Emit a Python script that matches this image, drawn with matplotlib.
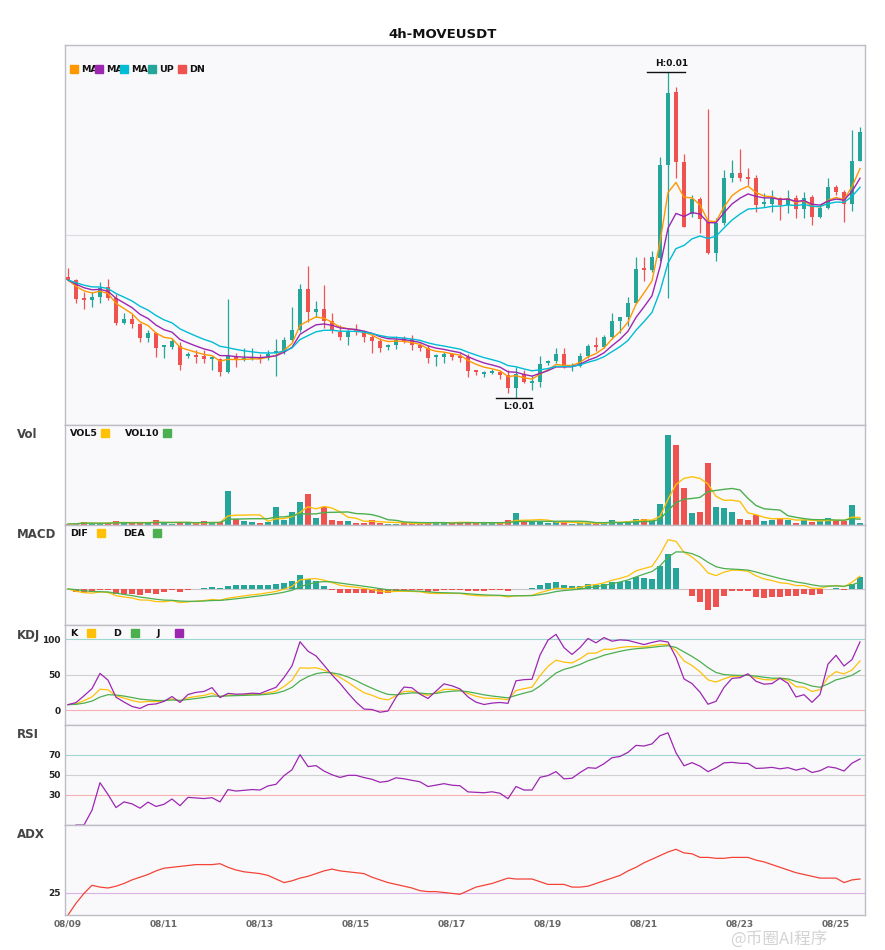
import numpy as np
import pandas as pd
import matplotlib
matplotlib.use("Agg")
import matplotlib.pyplot as plt
from matplotlib.patches import Rectangle

plt.rcParams['font.family'] = ['DejaVu Sans', 'Noto Sans CJK SC']

# 4h candles of MOVEUSDT, prices x 1e5
open_ = [1058, 1055, 1036, 1035, 1038, 1048, 1037, 1012, 1016, 1011,
         997, 1002, 988, 988, 989, 979, 980, 979, 976, 976,
         963, 979, 975, 976, 978, 977, 982, 983, 995, 1005,
         1046, 1023, 1026, 1014, 1003, 998, 1005, 1003, 998, 994,
         988, 990, 997, 996, 990, 987, 978, 978, 981, 978,
         978, 964, 961, 962, 963, 960, 947, 961, 952, 953,
         972, 974, 981, 968, 969, 979, 989, 988, 998, 1014,
         1018, 1032, 1066, 1065, 1077, 1170, 1243, 1173, 1121, 1136,
         1113, 1082, 1112, 1157, 1162, 1157, 1157, 1131, 1131, 1137,
         1130, 1137, 1126, 1138, 1118, 1127, 1148, 1143, 1131, 1174]
high = [1067, 1056, 1043, 1043, 1053, 1056, 1041, 1022, 1021, 1012,
        1005, 1003, 989, 997, 993, 983, 985, 985, 979, 977,
        1036, 982, 987, 987, 981, 985, 996, 998, 1028, 1051,
        1069, 1034, 1050, 1022, 1010, 1006, 1011, 1005, 1000, 997,
        991, 999, 999, 1000, 992, 990, 981, 983, 982, 982,
        981, 964, 964, 966, 965, 965, 968, 965, 960, 979,
        975, 987, 987, 972, 982, 991, 998, 1000, 1022, 1018,
        1038, 1078, 1078, 1084, 1178, 1263, 1248, 1181, 1140, 1138,
        1226, 1117, 1165, 1175, 1186, 1167, 1160, 1142, 1145, 1138,
        1145, 1140, 1143, 1140, 1130, 1157, 1150, 1145, 1205, 1208]
low = [1054, 1032, 1026, 1028, 1032, 1035, 1010, 1011, 1007, 993,
       993, 978, 977, 986, 965, 977, 972, 972, 965, 959,
       962, 968, 974, 975, 972, 975, 959, 981, 993, 1003,
       1013, 1018, 1007, 1002, 995, 990, 1000, 993, 982, 983,
       985, 986, 992, 985, 984, 972, 969, 972, 975, 973,
       958, 960, 958, 961, 956, 942, 937, 952, 945, 948,
       970, 972, 967, 964, 968, 977, 984, 987, 996, 1002,
       1009, 1032, 1054, 1063, 1074, 1037, 1157, 1108, 1118, 1102,
       1081, 1074, 1110, 1153, 1154, 1150, 1123, 1128, 1123, 1115,
       1122, 1117, 1117, 1110, 1117, 1126, 1140, 1113, 1124, 1174]
close = [1055, 1036, 1035, 1038, 1047, 1037, 1012, 1016, 1011, 997,
         1002, 987, 989, 994, 970, 980, 978, 976, 977, 963,
         979, 975, 976, 977, 976, 981, 983, 995, 1005, 1046,
         1023, 1026, 1014, 1005, 998, 1003, 1003, 998, 994, 987,
         989, 995, 993, 990, 987, 977, 979, 981, 978, 977,
         964, 963, 962, 963, 960, 947, 961, 953, 953, 971,
         974, 981, 968, 969, 979, 989, 988, 998, 1014, 1018,
         1032, 1066, 1065, 1078, 1170, 1242, 1173, 1108, 1136, 1116,
         1082, 1112, 1157, 1162, 1157, 1156, 1130, 1132, 1137, 1130,
         1137, 1126, 1137, 1118, 1127, 1148, 1143, 1131, 1174, 1203]
volume = [3, 4, 10, 5, 5, 5, 13, 9, 5, 5,
          5, 16, 8, 4, 7, 5, 6, 13, 5, 9,
          103, 18, 13, 10, 7, 8, 55, 16, 40, 70,
          94, 22, 53, 16, 13, 13, 7, 7, 16, 7,
          4, 4, 5, 5, 5, 10, 10, 5, 5, 10,
          10, 5, 5, 5, 5, 16, 37, 8, 8, 13,
          7, 8, 8, 4, 5, 5, 5, 7, 16, 8,
          13, 19, 19, 14, 64, 271, 241, 112, 37, 40,
          187, 55, 52, 40, 19, 16, 29, 13, 16, 22,
          16, 7, 16, 10, 13, 22, 11, 11, 61, 7]
# ADX
adx_vals = [0, 13, 24, 33, 31, 30, 32, 35, 39, 42,
            45, 49, 52, 53, 54, 55, 56, 56, 56, 57,
            53, 50, 48, 47, 46, 44, 40, 36, 38, 41,
            43, 46, 49, 51, 49, 48, 47, 46, 42, 39,
            36, 34, 32, 30, 27, 26, 26, 25, 24, 23,
            27, 31, 33, 35, 38, 41, 40, 40, 40, 37,
            34, 34, 34, 31, 31, 32, 35, 38, 41, 44,
            49, 53, 58, 62, 66, 70, 73, 69, 68, 64,
            64, 63, 63, 64, 64, 64, 61, 59, 56, 53,
            50, 47, 45, 43, 41, 41, 41, 36, 39, 40]

dates = pd.date_range('2025-08-09 00:00', periods=len(close), freq='4h')

UP = '#26A69A'
DN = '#EF5350'
BG = '#f9f9fc'
SPINE = '#bdbdc6'

o = pd.Series(open_) / 1e5
h = pd.Series(high) / 1e5
l = pd.Series(low) / 1e5
c = pd.Series(close) / 1e5
v = pd.Series(volume, dtype=float)
x = np.arange(len(c))
n = len(c)

# indicators
ema5 = c.ewm(span=5, adjust=False).mean()
ema8 = c.ewm(span=8, adjust=False).mean()
ema13 = c.ewm(span=13, adjust=False).mean()
vol5 = v.rolling(5, min_periods=1).mean()
vol10 = v.rolling(10, min_periods=1).mean()

# MACD(6, 13, 5)
dif = c.ewm(span=6, adjust=False).mean() - c.ewm(span=13, adjust=False).mean()
dea = dif.ewm(span=5, adjust=False).mean()
macd = 2 * (dif - dea)

ll = l.rolling(9, min_periods=1).min()
hh = h.rolling(9, min_periods=1).max()
rsv = (c - ll) / (hh - ll) * 100
K = rsv.ewm(com=2, adjust=False).mean()
D = K.ewm(com=2, adjust=False).mean()
J = 3 * K - 2 * D

delta = c.diff()
gain = delta.clip(lower=0).ewm(alpha=1 / 14, adjust=True).mean()
loss = (-delta.clip(upper=0)).ewm(alpha=1 / 14, adjust=True).mean()
rsi = 100 * gain / (gain + loss)

# figure
W, H = 885, 950
fig = plt.figure(figsize=(W / 100, H / 100), dpi=100)


def add_ax(top, bottom):
    a = fig.add_axes([65 / W, 1 - bottom / H, 800 / W, (bottom - top) / H])
    a.set_facecolor(BG)
    a.set_xlim(-0.375, n - 0.375)
    for s in a.spines.values():
        s.set_color(SPINE)
        s.set_linewidth(1)
    a.tick_params(length=0, labelsize=6.5, colors='#222', pad=3)
    a.set_xticks([])
    a.set_yticks([])
    return a


ax_p = add_ax(45, 425)
ax_v = add_ax(425, 525)
ax_m = add_ax(525, 625)
ax_k = add_ax(625, 725)
ax_r = add_ax(725, 825)
ax_a = add_ax(825, 915)

colors = np.where(c >= o, UP, DN)

# price panel
ax_p.axhline(0.0110, color='#dcdce2', lw=0.8, zorder=0)
ax_p.vlines(x, l, h, color=colors, lw=0.9, zorder=2)
body_lo = np.minimum(o, c)
body_h = np.maximum((c - o).abs(), 2e-5)
ax_p.bar(x, body_h, 0.62, bottom=body_lo, color=colors, zorder=3)
ax_p.plot(x, ema5, color='#FF9800', lw=1.0, zorder=4)
ax_p.plot(x, ema8, color='#9C27B0', lw=1.0, zorder=4)
ax_p.plot(x, ema13, color='#00BCD4', lw=1.0, zorder=4)
lo, hi = l.min(), h.max()
pad = (hi - lo) * 0.083
ax_p.set_ylim(lo - pad, hi + pad)

ih = int(h.idxmax())
il = int(l.idxmin())
ax_p.plot([ih - 2.6, ih + 2.1], [h[ih], h[ih]], color='#111', lw=1, zorder=5)
ax_p.annotate('H:0.01', (ih + 0.4, h[ih]), xytext=(0, 3), textcoords='offset points',
              ha='center', va='bottom', fontsize=6.5, fontweight='bold', color='#111')
ax_p.plot([il - 2.5, il + 2.0], [l[il], l[il]], color='#111', lw=1, zorder=5)
ax_p.annotate('L:0.01', (il + 0.3, l[il]), xytext=(0, -3), textcoords='offset points',
              ha='center', va='top', fontsize=6.5, fontweight='bold', color='#111')

# volume panel
ax_v.bar(x, v, 0.7, color=colors)
ax_v.plot(x, vol5, color='#FFC107', lw=1.0)
ax_v.plot(x, vol10, color='#4CAF50', lw=1.0)
ax_v.set_ylim(0, v.max() * 1.11)

# MACD panel
ax_m.axhline(0, color='#c8c8c8', lw=0.8, zorder=0)
ax_m.bar(x, macd, 0.7, color=np.where(macd >= 0, UP, DN))
ax_m.plot(x, dif, color='#FFC107', lw=0.9)
ax_m.plot(x, dea, color='#4CAF50', lw=0.9)
mlo = min(dif.min(), dea.min(), macd.min())
mhi = max(dif.max(), dea.max(), macd.max())
mr = mhi - mlo
ax_m.set_ylim(mlo - 0.21 * mr, mhi + 0.21 * mr)

# KDJ panel
ax_k.axhline(100, color='#9fd6d0', lw=0.8, zorder=0)
ax_k.axhline(50, color='#d0d0d0', lw=0.8, zorder=0)
ax_k.axhline(0, color='#f6b0b0', lw=0.8, zorder=0)
ax_k.plot(x, K, color='#FFC107', lw=0.9)
ax_k.plot(x, D, color='#4CAF50', lw=0.9)
ax_k.plot(x, J, color='#9C27B0', lw=0.9)
ax_k.set_ylim(-21, 120)
ax_k.set_yticks([0, 50, 100])
ax_k.set_yticklabels(['0', '50', '100'], fontweight='bold')

# RSI panel
ax_r.axhline(70, color='#9fd6d0', lw=0.8, zorder=0)
ax_r.axhline(50, color='#d0d0d0', lw=0.8, zorder=0)
ax_r.axhline(30, color='#f6b0b0', lw=0.8, zorder=0)
ax_r.plot(x, rsi, color='#9C27B0', lw=0.9)
ax_r.set_ylim(0, 100)
ax_r.set_yticks([30, 50, 70])
ax_r.set_yticklabels(['30', '50', '70'], fontweight='bold')

# ADX panel
ax_a.axhline(25, color='#dcb0e6', lw=0.8, zorder=0)
ax_a.plot(x, adx_vals, color='#F44336', lw=0.9)
ax_a.set_ylim(0, 100)
ax_a.set_yticks([25])
ax_a.set_yticklabels(['25'], fontweight='bold')
tick_idx = [i for i in range(n) if dates[i].hour == 0 and (dates[i].day - 9) % 2 == 0]
ax_a.set_xticks(tick_idx)
ax_a.set_xticklabels([dates[i].strftime('%m/%d') for i in tick_idx],
                     fontweight='bold', color='#666', fontsize=6.5)


# legends and labels in figure pixels
def box(px, py, color):
    fig.add_artist(Rectangle((px / W, 1 - (py + 8) / H), 8 / W, 8 / H,
                             transform=fig.transFigure, color=color, zorder=10))


def txt(px, py, s, size=6.8, color='#111', **kw):
    fig.text(px / W, 1 - py / H, s, va='center', ha='left', fontsize=size,
             fontweight='bold', color=color, zorder=9, **kw)


box(70, 65, '#FF9800'); txt(81, 69, 'MA')
box(95, 65, '#9C27B0'); txt(106, 69, 'MA')
box(120, 65, '#00BCD4'); txt(131, 69, 'MA')
box(148, 65, UP); txt(159, 69, 'UP')
box(178, 65, DN); txt(189, 69, 'DN')

txt(70, 433, 'VOL5'); box(101, 429, '#FFC107')
txt(125, 433, 'VOL10'); box(163, 429, '#4CAF50')
txt(70, 533, 'DIF'); box(97, 529, '#FFC107')
txt(123, 533, 'DEA'); box(153, 529, '#4CAF50')
txt(70, 633, 'K'); box(87, 629, '#FFC107')
txt(113, 633, 'D'); box(131, 629, '#4CAF50')
txt(157, 633, 'J'); box(175, 629, '#9C27B0')

for name, py in [('Vol', 435), ('MACD', 535), ('KDJ', 635), ('RSI', 735), ('ADX', 835)]:
    txt(17, py, name, size=8.5, color='#444')

fig.text(0.5, 1 - 34 / H, '4h-MOVEUSDT', ha='center', va='center',
         fontsize=9.5, fontweight='bold', color='#111')
fig.text(730 / W, 1 - 939 / H, '@币圈AI程序', ha='left', va='center', fontsize=12,
         color='#cfcfcf', family=['Noto Sans CJK SC', 'DejaVu Sans'], alpha=0.9)

fig.savefig('out.png', dpi=100, facecolor='white')
